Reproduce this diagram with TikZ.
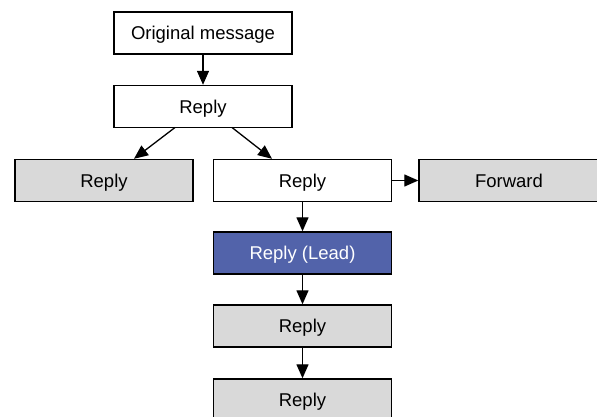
\documentclass[tikz,border=0pt]{standalone}
\usepackage{fontspec}
\setmainfont{Liberation Sans}
\usetikzlibrary{arrows.meta}
\definecolor{boxgray}{RGB}{217,217,217}
\definecolor{leadblue}{RGB}{82,99,170}
\begin{document}
\begin{tikzpicture}[x=1pt,y=-1pt,
  box/.style={draw=black,line width=1.4pt,rectangle,minimum height=42pt,inner sep=0pt,text height=13.3pt,text depth=0pt,font=\fontsize{18.5}{21}\selectfont},
  plain/.style={box,fill=white},
  grey/.style={box,fill=boxgray},
  lead/.style={box,fill=leadblue,text=white},
  conn/.style={line width=1.3pt,-{Triangle[length=14pt,width=12pt]}}]
\useasboundingbox (0,0) rectangle (597,417);
\begin{scope}
\clip (0,0) rectangle (597,417);
\node[plain,minimum width=178pt] (orig) at (203,33) {Original message};
\node[plain,minimum width=178pt] (r1) at (203,106.5) {Reply};
\node[grey,minimum width=178pt] (left) at (104,180.5) {Reply};
\node[plain,minimum width=178pt] (mid) at (302.5,180.5) {Reply};
\node[grey,minimum width=180pt] (fwd) at (509,180.5) {Forward};
\node[lead,minimum width=178pt] (lead) at (302.5,253) {Reply (Lead)};
\node[grey,minimum width=178pt] (r2) at (302.5,326) {Reply};
\node[grey,minimum width=178pt] (r3) at (302.5,400) {Reply};
\coordinate (a1) at (175,127.5);
\coordinate (a2) at (232,127.5);
\draw[conn] (orig.south) -- (r1.north);
\draw[conn] (a1) -- (left.north -| 134,0);
\draw[conn] (a2) -- (mid.north -| 272,0);
\draw[conn] (mid.east) -- (fwd.west);
\draw[conn] (mid.south) -- (lead.north);
\draw[conn] (lead.south) -- (r2.north);
\draw[conn] (r2.south) -- (r3.north);
\end{scope}
\end{tikzpicture}
\end{document}
